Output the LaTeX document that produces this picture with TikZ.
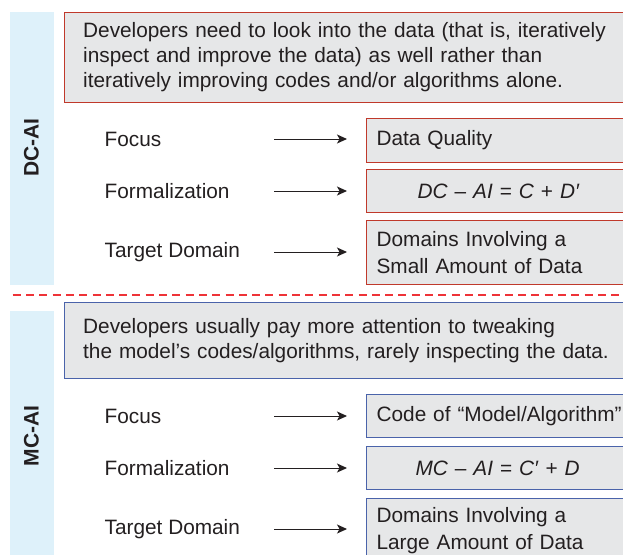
\documentclass[tikz,border=0pt]{standalone}
\usepackage{fontspec}
\setmainfont{Liberation Sans}
\usetikzlibrary{arrows.meta}
\definecolor{boxgray}{HTML}{E6E7E8}
\definecolor{bandblue}{HTML}{DEF1FA}
\definecolor{dcred}{HTML}{C0392B}
\definecolor{mcblue}{HTML}{4A63AA}
\definecolor{cutred}{HTML}{EE3338}
\definecolor{ink}{HTML}{231F20}
\tikzset{
  band/.style={fill=bandblue, draw=none},
  descbox/.style={fill=boxgray, line width=1.2pt, anchor=north west, align=left,
    text width=600pt, inner xsep=19pt, inner ysep=0pt, text=ink,
    font=\fontsize{20.8}{25}\selectfont},
  itembox/.style={fill=boxgray, line width=1.2pt, anchor=north west, align=left,
    text width=400pt, inner xsep=10pt, inner ysep=0pt, text=ink,
    font=\fontsize{20.8}{27}\selectfont},
  rowlabel/.style={anchor=west, inner sep=0pt, text=ink, font=\fontsize{20.8}{22}\selectfont},
  sidelabel/.style={rotate=90, text=ink, font=\bfseries\fontsize{21}{22}\selectfont, inner sep=0pt},
  conn/.style={line width=1pt, draw=ink, shorten >=19pt,
    -{Stealth[length=10pt,width=9pt,inset=2.5pt]}}
}
\begin{document}
\begin{tikzpicture}[x=1pt,y=-1pt]
\useasboundingbox (0,0) rectangle (623,554);
\clip (0,0) rectangle (623,554);

% side bands
\fill[band] (10,12) rectangle (53.5,285);
\fill[band] (10,311) rectangle (53.5,560);
\node[sidelabel] (dclab) at (31.5,147.5) {DC-AI};
\node[sidelabel] (mclab) at (31.5,436) {MC-AI};

% DC-AI section
\node[descbox, draw=dcred, minimum height=90pt] (dcdesc) at (63.6,12)
  {Developers need to look into the data (that is, iteratively\\
   inspect and improve the data) as well rather than\\
   iteratively improving codes and/or algorithms alone.};

\node[rowlabel] (dcfocus) at (104.5,139) {Focus};
\node[rowlabel] (dcform) at (104.5,191) {Formalization};
\node[rowlabel] (dctarget) at (104.5,252) {Target Domain};

\node[itembox, draw=dcred, minimum height=44pt] (dcfocusbox) at (366,118) {Data Quality};
\node[itembox, draw=dcred, minimum height=43pt, inner xsep=51pt, text width=365pt] (dcformbox) at (366,169)
  {\itshape DC\/\upshape{} – \itshape AI\/\upshape{} = \itshape C\/\upshape{} + \itshape D′};
\node[itembox, draw=dcred, minimum height=64pt] (dctargetbox) at (366,220)
  {Domains Involving a\\Small Amount of Data};

\coordinate (dcfocusA) at (274,139);
\coordinate (dcformA) at (274,191);
\coordinate (dctargetA) at (274,252);
\draw[conn] (dcfocusA) -- (dcfocusbox.west |- dcfocusA);
\draw[conn] (dcformA) -- (dcformbox.west |- dcformA);
\draw[conn] (dctargetA) -- (dctargetbox.west |- dctargetA);

% dividing line
\coordinate (cutL) at (12.7,295);
\coordinate (cutR) at (623,295);
\draw[cutred, line width=2.4pt, dash pattern=on 8pt off 5.3pt] (cutL) -- (cutR);

% MC-AI section
\node[descbox, draw=mcblue, minimum height=76pt] (mcdesc) at (63.6,302)
  {Developers usually pay more attention to tweaking\\
   the model’s codes/algorithms, rarely inspecting the data.};

\node[rowlabel] (mcfocus) at (104.5,416) {Focus};
\node[rowlabel] (mcform) at (104.5,468) {Formalization};
\node[rowlabel] (mctarget) at (104.5,529) {Target Domain};

\node[itembox, draw=mcblue, minimum height=43pt] (mcfocusbox) at (366,394) {Code of “Model/Algorithm”};
\node[itembox, draw=mcblue, minimum height=43pt, inner xsep=49pt, text width=365pt] (mcformbox) at (366,446)
  {\itshape MC\/\upshape{} – \itshape AI\/\upshape{} = \itshape C′\/\upshape{} + \itshape D};
\node[itembox, draw=mcblue, minimum height=64pt] (mctargetbox) at (366,498)
  {Domains Involving a\\Large Amount of Data};

\coordinate (mcfocusA) at (274,416);
\coordinate (mcformA) at (274,468);
\coordinate (mctargetA) at (274,529);
\draw[conn] (mcfocusA) -- (mcfocusbox.west |- mcfocusA);
\draw[conn] (mcformA) -- (mcformbox.west |- mcformA);
\draw[conn] (mctargetA) -- (mctargetbox.west |- mctargetA);
\end{tikzpicture}
\end{document}
